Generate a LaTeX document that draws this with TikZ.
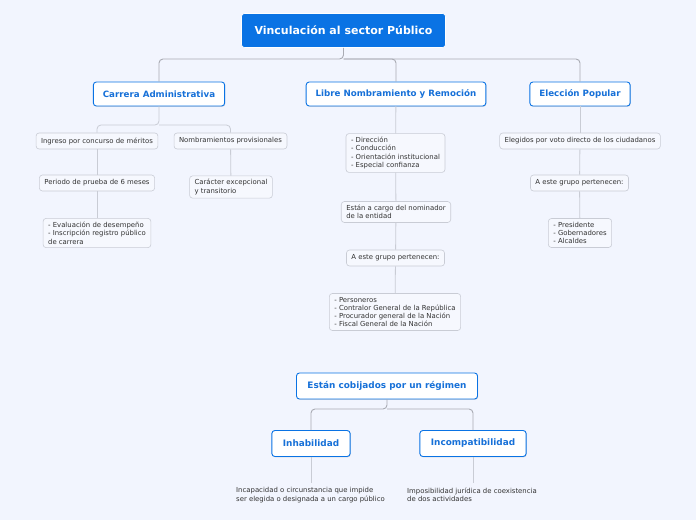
\documentclass[tikz,border=0pt]{standalone}
\usepackage{fontspec}
\setmainfont{DejaVu Sans}
\usepackage{xcolor}
\usetikzlibrary{positioning, shadows}
\definecolor{bgc}{HTML}{F2F5FE}
\definecolor{mainblue}{HTML}{0A73E4}
\definecolor{txtblue}{HTML}{1670D8}
\definecolor{linec}{HTML}{A9ABB3}
\definecolor{leafc}{HTML}{C9CCD5}
\definecolor{leaffill}{HTML}{F6F8FE}
\definecolor{txtgray}{HTML}{333333}

\begin{document}
\begin{tikzpicture}[
  x=1pt, y=-1pt,
  rootbox/.style={fill=mainblue, draw=white, line width=0.6pt, rounded corners=3pt,
                  text=white, font=\fontsize{11}{13}\selectfont\bfseries,
                  minimum height=34pt, inner xsep=13pt},
  topic/.style={fill=white, draw=mainblue, line width=0.9pt, rounded corners=3pt,
                text=txtblue, font=\fontsize{8.7}{10}\selectfont\bfseries,
                minimum height=24pt, inner xsep=9.5pt,
                drop shadow={opacity=0.25, shadow xshift=0.6pt, shadow yshift=-0.8pt}},
  bigtopic/.style={topic, font=\fontsize{8.9}{10}\selectfont\bfseries,
                   minimum height=26pt, inner xsep=11pt},
  leaf/.style={fill=leaffill, draw=leafc, line width=0.6pt, rounded corners=3pt,
               text=txtgray, font=\fontsize{6.9}{8.3}\selectfont, align=left,
               minimum height=16pt, inner xsep=5pt, inner ysep=3.5pt},
  note/.style={text=txtgray, font=\fontsize{6.9}{8.3}\selectfont, align=left,
               inner sep=0pt, anchor=north west},
  conn/.style={draw=linec, line width=0.9pt, rounded corners=4pt},
  thin/.style={draw=leafc, line width=0.8pt, rounded corners=4pt},
]
\fill[bgc] (0,0) rectangle (696,520);

% --- main topics ---
\node[rootbox] (root) at (343.5,30.5) {Vinculación al sector Público};
\node[topic] (carrera) at (159,94) {Carrera Administrativa};
\node[topic] (libre) at (396,94) {Libre Nombramiento y Remoción};
\node[topic] (eleccion) at (580,94) {Elección Popular};

\coordinate (bus) at (0,59);
\draw[conn] (root.south) -- (root.south |- bus) -| (carrera.north);
\draw[conn] (root.south |- bus) -| (libre.north);
\draw[conn] (root.south |- bus) -| (eleccion.north);

% --- carrera administrativa ---
\node[leaf] (ingreso) at (97,141) {Ingreso por concurso de méritos};
\node[leaf] (provis) at (230.5,141) {Nombramientos provisionales};
\node[leaf] (prueba) at (97,183) {Periodo de prueba de 6 meses};
\node[leaf] (evalua) at (97,233) {- Evaluación de desempeño\\- Inscripción registro público\\de carrera};
\node[leaf] (caracter) at (231,187) {Carácter excepcional\\y transitorio};

\coordinate (cbus) at (0,125);
\draw[thin] (carrera.south) -- (carrera.south |- cbus) -| (ingreso.north);
\draw[thin] (carrera.south |- cbus) -| (provis.north);
\draw[thin] (ingreso) -- (prueba);
\draw[thin] (prueba) -- (evalua);
\draw[thin] (provis) -- (caracter);

% --- libre nombramiento ---
\node[leaf] (funciones) at (395.5,153) {- Dirección\\- Conducción\\- Orientación institucional\\- Especial confianza};
\node[leaf] (nominador) at (396,212) {Están a cargo del nominador\\de la entidad};
\node[leaf] (grupoA) at (395.5,258) {A este grupo pertenecen:};
\node[leaf] (cargosA) at (395,312) {- Personeros\\- Contralor General de la República\\- Procurador general de la Nación\\- Fiscal General de la Nación};

\draw[thin] (libre) -- (funciones);
\draw[thin] (funciones) -- (nominador);
\draw[thin] (nominador) -- (grupoA);
\draw[thin] (grupoA) -- (cargosA);

% --- eleccion popular ---
\node[leaf] (voto) at (580,141) {Elegidos por voto directo de los ciudadanos};
\node[leaf] (grupoB) at (579.5,183) {A este grupo pertenecen:};
\node[leaf] (cargosB) at (580,233) {- Presidente\\- Gobernadores\\- Alcaldes};

\draw[thin] (eleccion) -- (voto);
\draw[thin] (voto) -- (grupoB);
\draw[thin] (grupoB) -- (cargosB);

% --- regimen ---
\node[bigtopic] (regimen) at (387,386) {Están cobijados por un régimen};
\node[bigtopic] (inhab) at (311,443.5) {Inhabilidad};
\node[bigtopic] (incomp) at (473,443.5) {Incompatibilidad};

\coordinate (rbus) at (0,409);
\draw[conn] (regimen.south) -- (regimen.south |- rbus) -| (inhab.north);
\draw[conn] (regimen.south |- rbus) -| (incomp.north);

\node[note] (incap) at (236,487.5) {Incapacidad o circunstancia que impide\\ser elegida o designada a un cargo público};
\node[note] (imposib) at (407,487.5) {Imposibilidad jurídica de coexistencia\\de dos actividades};
\coordinate (incapend) at (311,483);
\coordinate (imposend) at (473,483);
\draw[thin] (inhab) -- (incapend);
\draw[thin] (incomp) -- (imposend);
\end{tikzpicture}
\end{document}
